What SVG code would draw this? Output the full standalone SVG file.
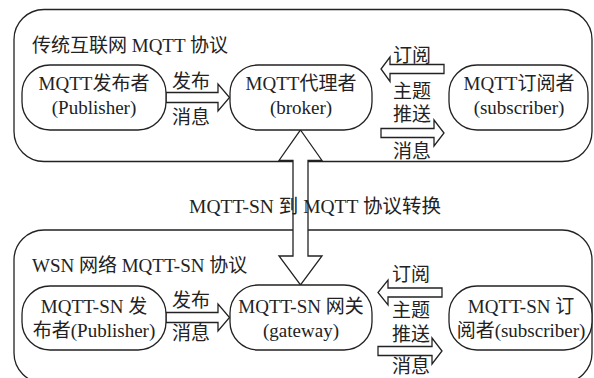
<svg xmlns="http://www.w3.org/2000/svg" width="594" height="378" viewBox="0 0 594 378">
<style>
.box{fill:#fff;stroke:#222;stroke-width:1.3}
.node{fill:#fff;stroke:#222;stroke-width:1.3}
.arr{fill:#fff;stroke:#222;stroke-width:1.3;stroke-linejoin:miter}
text{font-family:"Liberation Serif","Noto Sans CJK SC",serif;font-size:19px;fill:#222}
.c{text-anchor:middle}
</style>
<rect width="594" height="378" fill="#fff"/>
<g id="container-mqtt">
<rect class="box" x="14" y="9.5" width="578" height="152" rx="30"/>
<text x="32" y="52">传统互联网 MQTT 协议</text>
</g>
<g id="container-wsn">
<rect class="box" x="14" y="230" width="578" height="153" rx="30"/>
<text x="32" y="272">WSN 网络 MQTT-SN 协议</text>
</g>
<g id="connectors">
<polygon id="conv" class="arr" points="300.5,130 322,160.5 308,160.5 308,256 322,256 300.5,285 279,256 293,256 293,160.5 279,160.5"/>
<polygon id="pub-top" class="arr" points="166,92.5 218,92.5 218,84 229.5,97.5 218,111 218,102.5 166,102.5"/>
<polygon id="sub-top" class="arr" points="444,64.5 390,64.5 390,57 381,69 390,81.5 390,73.5 444,73.5"/>
<polygon id="push-top" class="arr" points="381,128.5 434,128.5 434,120 444,133 434,146 434,137.5 381,137.5"/>
<polygon id="pub-bot" class="arr" points="166,312.5 218,312.5 218,304 229.5,317.5 218,331 218,322.5 166,322.5"/>
<polygon id="sub-bot" class="arr" points="442,288 388,288 388,280 378,292.5 388,305 388,297 442,297"/>
<polygon id="push-bot" class="arr" points="378,346.5 432,346.5 432,338 442,351 432,364 432,355.5 378,355.5"/>
<text x="172" y="88">发布</text>
<text x="172" y="124">消息</text>
<text x="393" y="62">订阅</text>
<text x="393" y="98">主题</text>
<text x="393" y="121">推送</text>
<text x="393" y="158">消息</text>
<text x="172" y="307">发布</text>
<text x="172" y="340">消息</text>
<text x="392" y="281">订阅</text>
<text x="392" y="317">主题</text>
<text x="392" y="341">推送</text>
<text x="392" y="373">消息</text>
<text x="315" y="213" class="c" style="font-size:19.5px">MQTT-SN 到 MQTT 协议转换</text>
</g>
<g id="publisher">
<rect class="node" x="22" y="65" width="144" height="65" rx="28"/>
<text x="94" y="90" class="c">MQTT发布者</text>
<text x="94" y="114" class="c">(Publisher)</text>
</g>
<g id="broker">
<rect class="node" x="230" y="65" width="142" height="65" rx="28"/>
<text x="301" y="90" class="c">MQTT代理者</text>
<text x="301" y="114" class="c">(broker)</text>
</g>
<g id="subscriber">
<rect class="node" x="449" y="65" width="139" height="65" rx="28"/>
<text x="519" y="90" class="c">MQTT订阅者</text>
<text x="519" y="114" class="c">(subscriber)</text>
</g>
<g id="sn-publisher">
<rect class="node" x="22" y="286" width="144" height="64" rx="28"/>
<text x="94" y="313" class="c">MQTT-SN 发</text>
<text x="94" y="337" class="c">布者(Publisher)</text>
</g>
<g id="gateway">
<rect class="node" x="230" y="285" width="142" height="65" rx="28"/>
<text x="301" y="313" class="c">MQTT-SN 网关</text>
<text x="301" y="337" class="c">(gateway)</text>
</g>
<g id="sn-subscriber">
<rect class="node" x="449" y="286" width="143" height="64" rx="28"/>
<text x="521" y="313" class="c">MQTT-SN 订</text>
<text x="521" y="337" class="c">阅者(subscriber)</text>
</g>
</svg>
